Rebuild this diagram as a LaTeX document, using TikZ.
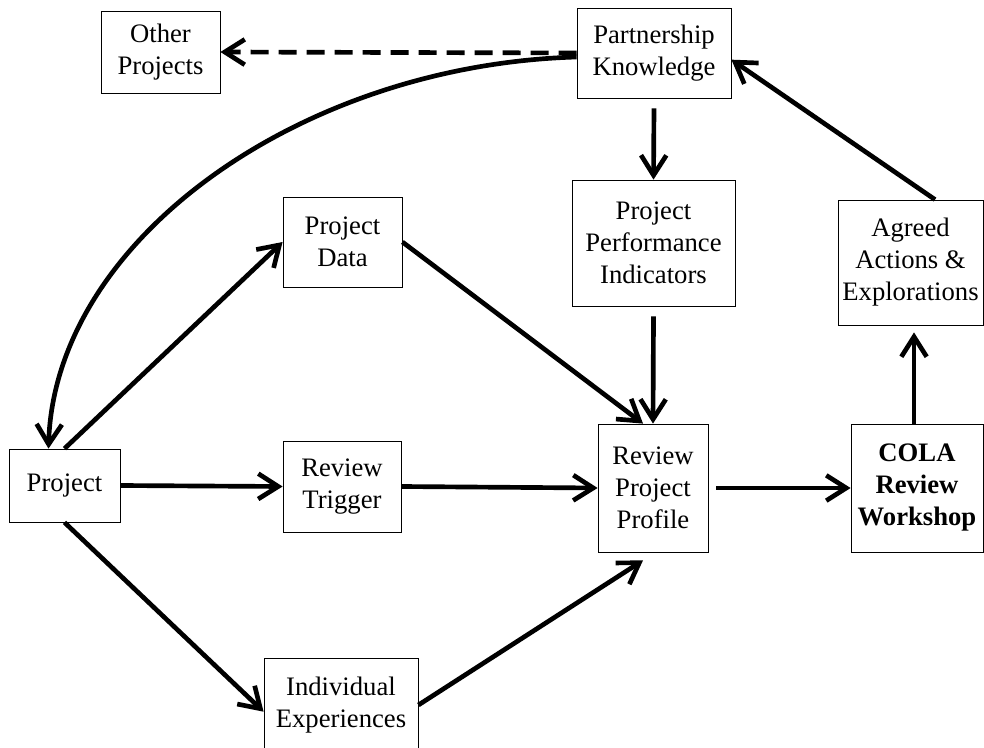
\documentclass[tikz,border=0pt]{standalone}
\usepackage{fontspec}
\setmainfont{Liberation Serif}
\usetikzlibrary{arrows.meta}
\begin{document}
\begin{tikzpicture}[x=0.75pt,y=-0.75pt,
  box/.style={draw, line width=0.6pt, inner sep=0pt, align=center,
    font=\fontsize{20}{24}\selectfont},
  flow/.style={line width=3.5pt, -{Straight Barb[length=15pt,width=19pt]}},
  dashflow/.style={flow, dash pattern=on 13.5pt off 7.5pt}]
\useasboundingbox (0,0) rectangle (984,748);
\clip (0,0) rectangle (984,748);
\node[box, minimum width=89.25pt, minimum height=61.5pt] (other) at (160.5,52) {Other\\Projects};
\node[box, minimum width=115.5pt, minimum height=67.5pt] (partner) at (654,53) {Partnership\\Knowledge};
\node[box, minimum width=122.25pt, minimum height=94.5pt] (ppi) at (653.5,243) {Project\\Performance\\Indicators};
\node[box, minimum width=108.75pt, minimum height=93.75pt] (agreed) at (910.5,262.5) {Agreed\\Actions \&\\Explorations};
\node[box, minimum width=89.25pt, minimum height=67.5pt] (pdata) at (342.5,242) {Project\\Data};
\node[box, minimum width=83.25pt, minimum height=54.75pt] (project) at (64.5,485.5) {Project};
\node[box, minimum width=88.5pt, minimum height=68.25pt] (trigger) at (342,486.5) {Review\\Trigger};
\node[box, minimum width=115.5pt, minimum height=70.5pt] (indiv) at (341,705) {Individual\\Experiences};
\node[box, minimum width=82.5pt, minimum height=96pt] (rpp) at (653,488) {Review\\Project\\Profile};
\node[box, minimum width=99pt, minimum height=96pt, font=\fontsize{20}{24}\selectfont\bfseries] (cola) at (917,488) {COLA\\Review\\Workshop};

\draw[dashflow] (partner.west) -- (other.east);
\draw[flow] ([yshift=-3pt]partner.west) .. controls (300,65) and (55,240) .. ([xshift=-12pt]project.north);
\draw[flow] (project.north) -- (pdata.west);
\draw[flow] (pdata.east) -- ([xshift=-7.5pt]rpp.north);
\draw[flow] ([yshift=-7.5pt]partner.south) -- (ppi.north);
\draw[flow] ([yshift=-7.5pt]ppi.south) -- (rpp.north);
\draw[flow] (project.east) -- (trigger.west);
\draw[flow] (trigger.east) -- (rpp.west);
\draw[flow] (project.south) -- ([yshift=-5pt]indiv.west);
\draw[flow] (indiv.east) -- ([xshift=-7.5pt,yshift=-6pt]rpp.south);
\draw[flow] ([xshift=6pt]rpp.east) -- (cola.west);
\draw[flow] ([xshift=-2.25pt]cola.north) -- ([xshift=-2.25pt,yshift=-5.25pt]cola.north |- agreed.south);
\draw[flow] ([xshift=18.4pt]agreed.north) -- ([yshift=-5pt]partner.east);
\end{tikzpicture}
\end{document}
